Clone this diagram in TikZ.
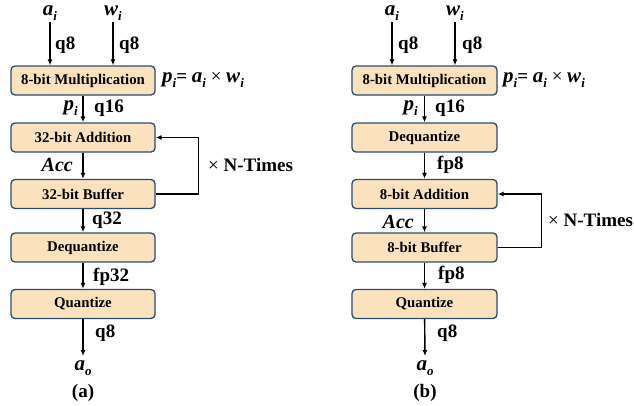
\documentclass[tikz,border=0pt]{standalone}
\usepackage{fontspec}
\setmainfont{Liberation Serif}
\usetikzlibrary{arrows.meta}
\definecolor{boxfill}{HTML}{FBE2BF}
\definecolor{boxline}{HTML}{2E4A6B}
\newcommand{\vsub}[2]{{\fontsize{21}{21}\selectfont\textbf{\textit{#1}}}\raisebox{-0.25em}{\fontsize{13}{13}\selectfont\textbf{\textit{#2}}}}
\begin{document}
\begin{tikzpicture}[x=1pt,y=-1pt,
  blk/.style={draw=boxline,fill=boxfill,line width=1.3pt,rounded corners=4pt,minimum height=29pt,inner sep=0pt,font=\fontsize{14.8}{15}\selectfont\bfseries},
  lbl/.style={font=\fontsize{19}{20}\selectfont\bfseries,inner sep=0pt},
  arr/.style={-{Latex[length=6pt,width=5pt]},line width=1.4pt}]
\useasboundingbox (0,0) rectangle (634,405);
% ---------- (a) ----------
\node[blk,minimum width=144pt] (amul) at (83,80.5) {8-bit Multiplication};
\node[blk,minimum width=144pt] (aadd) at (83,137.5) {32-bit Addition};
\node[blk,minimum width=144pt] (abuf) at (83,194) {32-bit Buffer};
\node[blk,minimum width=144pt] (adeq) at (83,247.5) {Dequantize};
\node[blk,minimum width=144pt] (aqua) at (83,304) {Quantize};
\node[lbl] (aai) at (50,13) {\vsub{a}{i}};
\node[lbl] (awi) at (113,13) {\vsub{w}{i}};
\node[lbl] (aao) at (83,368) {\vsub{a}{o}};
\node[lbl] (acap) at (83,393) {(a)};
\coordinate (aout) at (83,356);
\draw[arr] (50,22) coordinate (aai1) -- (aai1 |- amul.north);
\draw[arr] (113,22) coordinate (awi1) -- (awi1 |- amul.north);
\draw[arr] (amul) -- (aadd);
\draw[arr] (aadd) -- (abuf);
\draw[arr] (abuf) -- (adeq);
\draw[arr] (adeq) -- (aqua);
\draw[arr] (aqua) -- (aout);
\draw[arr] (abuf.east) -- ++(43,0) coordinate (aloop) -- (aloop |- aadd.east) -- (aadd.east);
\node[lbl,anchor=west] (aq8a) at (55,45) {q8};
\node[lbl,anchor=west] (aq8b) at (119,45) {q8};
\node[lbl,anchor=west] (apf) at (162,80) {\vsub{p}{i}= \vsub{a}{i} \textmd{×} \vsub{w}{i}};
\node[lbl,anchor=east] (api) at (78,108) {\vsub{p}{i}};
\node[lbl,anchor=west] (aq16) at (94,108) {q16};
\node[lbl,anchor=east] (aacc) at (73,165) {\fontsize{20}{20}\selectfont\textbf{\textit{Acc}}};
\node[lbl,anchor=west] (antm) at (208,165) {\textmd{×} N-Times};
\node[lbl,anchor=west] (aq32) at (92,220) {q32};
\node[lbl,anchor=west] (afp) at (93,277) {fp32};
\node[lbl,anchor=west] (aq8c) at (95,333) {q8};
% ---------- (b) ----------
\node[blk,minimum width=145pt] (bmul) at (424.5,80.5) {8-bit Multiplication};
\node[blk,minimum width=145pt] (bdeq) at (424.5,137.5) {Dequantize};
\node[blk,minimum width=145pt] (badd) at (424.5,194) {8-bit Addition};
\node[blk,minimum width=145pt] (bbuf) at (424.5,247.5) {8-bit Buffer};
\node[blk,minimum width=145pt] (bqua) at (424.5,304) {Quantize};
\node[lbl] (bai) at (392,13) {\vsub{a}{i}};
\node[lbl] (bwi) at (455,13) {\vsub{w}{i}};
\node[lbl] (bao) at (425,368) {\vsub{a}{o}};
\node[lbl] (bcap) at (425,393) {(b)};
\coordinate (bout) at (425,356);
\draw[arr] (392,22) coordinate (bai1) -- (bai1 |- bmul.north);
\draw[arr] (455,22) coordinate (bwi1) -- (bwi1 |- bmul.north);
\draw[arr] (bmul) -- (bdeq);
\draw[arr] (bdeq) -- (badd);
\draw[arr] (badd) -- (bbuf);
\draw[arr] (bbuf) -- (bqua);
\draw[arr] (bqua) -- (bout);
\draw[arr] (bbuf.east) -- ++(44,0) coordinate (bloop) -- (bloop |- badd.east) -- (badd.east);
\node[lbl,anchor=west] (bq8a) at (398,45) {q8};
\node[lbl,anchor=west] (bq8b) at (462,45) {q8};
\node[lbl,anchor=west] (bpf) at (503,80) {\vsub{p}{i}= \vsub{a}{i} \textmd{×} \vsub{w}{i}};
\node[lbl,anchor=east] (bpi) at (418,108) {\vsub{p}{i}};
\node[lbl,anchor=west] (bq16) at (435,108) {q16};
\node[lbl,anchor=west] (bfp1) at (437,165) {fp8};
\node[lbl,anchor=east] (bacc) at (414,222) {\fontsize{20}{20}\selectfont\textbf{\textit{Acc}}};
\node[lbl,anchor=west] (bntm) at (548,220) {\textmd{×} N-Times};
\node[lbl,anchor=west] (bfp2) at (438,275) {fp8};
\node[lbl,anchor=west] (bq8c) at (437,333) {q8};
\end{tikzpicture}
\end{document}
